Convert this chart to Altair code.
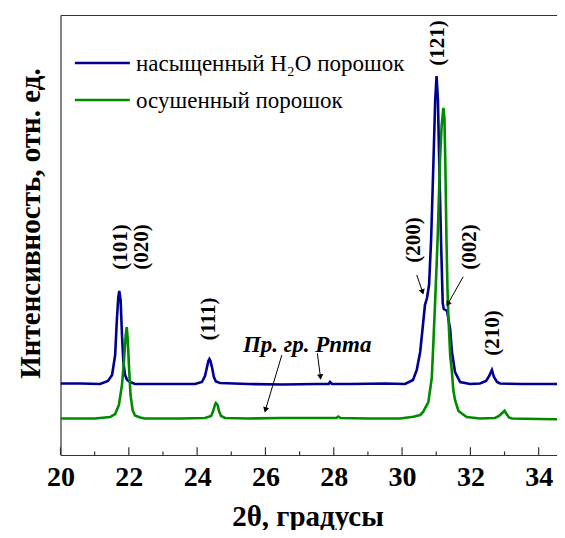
import altair as alt
import pandas as pd

# ---- data (2θ in degrees, intensity in arbitrary units) ----
series_names = ["насыщенный H₂O порошок", "осушенный порошок"]
series_colors = ["#000090", "#008a00"]

blue_x = [20.00, 20.60, 21.16, 21.39, 21.51, 21.60, 21.65, 21.69, 21.72, 21.76, 21.80, 21.84,
          21.89, 21.95, 22.04, 22.18, 23.00, 23.94, 24.14, 24.23, 24.29, 24.33, 24.36, 24.39,
          24.44, 24.49, 24.55, 24.67, 25.50, 26.50, 27.50, 27.85, 27.89, 27.95, 28.50, 29.50,
          30.09, 30.32, 30.43, 30.53, 30.62, 30.67, 30.73, 30.79, 30.85, 30.92, 30.97, 31.01,
          31.05, 31.08, 31.14, 31.19, 31.22, 31.32, 31.41, 31.46, 31.55, 31.70, 31.99, 32.28,
          32.46, 32.55, 32.63, 32.69, 32.78, 32.87, 33.50, 34.00, 34.77]
blue_y = [71.5, 71.5, 71, 74, 80, 100, 135, 157, 164, 155, 120, 93,
          80, 75, 73, 71, 71, 71, 73, 79, 88, 94, 96, 94,
          87, 78, 73.5, 72, 71, 70.5, 71, 71, 73, 71, 71, 71.5,
          71, 75, 85, 103, 133, 150, 157, 170, 215, 295, 355, 379,
          355, 305, 215, 152, 146, 144, 125, 103, 83, 73, 71, 71.5,
          74, 79, 85, 78, 73, 71.5, 71, 71, 71]

green_x = [20.00, 21.01, 21.45, 21.60, 21.71, 21.80, 21.86, 21.91, 21.94, 21.97, 22.01, 22.05,
           22.11, 22.18, 22.33, 22.47, 23.50, 24.23, 24.41, 24.47, 24.52, 24.55, 24.60, 24.64,
           24.70, 24.82, 25.50, 26.50, 27.50, 28.08, 28.13, 28.20, 29.00, 29.94, 30.33, 30.53,
           30.62, 30.77, 30.87, 30.92, 30.97, 31.04, 31.11, 31.16, 31.21, 31.24, 31.27, 31.30,
           31.33, 31.36, 31.41, 31.46, 31.50, 31.55, 31.65, 31.89, 32.28, 32.72, 32.84, 32.93,
           33.00, 33.06, 33.13, 33.22, 34.00, 34.77]
green_y = [36.5, 36.5, 38, 41, 50, 70, 95, 120, 128, 115, 85, 60,
           45, 39.5, 37.5, 36.5, 36.5, 37, 39, 44, 50, 52, 50, 44,
           39, 37, 36.5, 37, 37, 37, 38.5, 37, 36.5, 36.5, 38.3, 40,
           43.3, 53, 77, 115, 155, 215, 295, 330, 347, 337, 285, 215,
           165, 135, 99, 83, 65, 55, 44, 38, 36.5, 37, 39, 42,
           44.3, 41, 37.5, 36.5, 36, 35.7]

x_major = [20, 22, 24, 26, 28, 30, 32, 34]
x_minor = [21, 23, 25, 27, 29, 31, 33]

peak_labels = ["(101)", "(020)", "(111)", "(200)", "(121)", "(002)", "(210)"]
peak_label_x = [21.77, 22.39, 24.35, 30.35, 31.05, 31.99, 32.66]
peak_label_y = [208, 208, 136, 215, 412, 208, 122]

group_label = "Пр. гр. Pnma"
group_label_x = [25.34]
group_label_y = [103]

arrow_x0 = [26.48, 27.52, 30.43, 31.79]
arrow_y0 = [100, 101.7, 180, 178.3]
arrow_x1 = [26.00, 27.61, 30.60, 31.34]
arrow_y1 = [45, 78, 163, 151]
arrow_angle = [196, 173, 162, 209]

legend_x0 = [20.42, 20.42]
legend_x1 = [22.03, 22.03]
legend_y = [392, 355]
legend_text_x = [22.21, 22.21]

# ---- tables ----
lines_df = pd.concat([
    pd.DataFrame({"x": blue_x, "y": blue_y, "series": series_names[0]}),
    pd.DataFrame({"x": green_x, "y": green_y, "series": series_names[1]}),
])
major_df = pd.DataFrame({"x": x_major, "y": [0] * len(x_major), "y2": [7.7] * len(x_major)})
minor_df = pd.DataFrame({"x": x_minor, "y": [0] * len(x_minor), "y2": [3.6] * len(x_minor)})
peak_df = pd.DataFrame({"x": peak_label_x, "y": peak_label_y, "t": peak_labels})
group_df = pd.DataFrame({"x": group_label_x, "y": group_label_y, "t": [group_label]})
arrow_df = pd.DataFrame({"x": arrow_x0, "y": arrow_y0, "x2": arrow_x1, "y2": arrow_y1,
                         "ang": arrow_angle})
legend_df = pd.DataFrame({"x": legend_x0, "x2": legend_x1, "y": legend_y,
                          "tx": legend_text_x, "series": series_names})

FONT = "Liberation Serif"
W, H = 504.5, 440

xs = alt.Scale(domain=[20, 34.77], nice=False, zero=False)
ys = alt.Scale(domain=[0, 440], nice=False, zero=False)
cs = alt.Scale(domain=series_names, range=series_colors)

left_axis = alt.Axis(
    title="Интенсивность, отн. ед.", labels=False, ticks=False, grid=False,
    domainColor="#333333", domainWidth=1.2,
    titleFont=FONT, titleFontSize=29, titleFontWeight="bold", titleColor="black",
    titleAngle=270, titleAlign="center", titleBaseline="middle",
    titleX=-30, titleY=208,
)
bottom_axis = alt.Axis(
    orient="bottom", values=x_major, format="d", ticks=False, grid=False,
    domainColor="#333333", domainWidth=1.2, labelFlush=False,
    labelFont=FONT, labelFontSize=28, labelFontWeight="bold", labelColor="black",
    labelPadding=8,
    title="2θ, градусы", titleFont=FONT, titleFontSize=29, titleFontWeight="bold",
    titleColor="black", titleBaseline="alphabetic", titleAlign="center",
    titleX=247, titleY=70,
)
top_axis = alt.Axis(orient="top", labels=False, ticks=False, grid=False, title=None,
                    domainColor="#333333", domainWidth=1.2)

lines = alt.Chart(lines_df).mark_line(strokeWidth=2.6, clip=True).encode(
    x=alt.X("x:Q", scale=xs, axis=bottom_axis),
    y=alt.Y("y:Q", scale=ys, axis=left_axis),
    color=alt.Color("series:N", scale=cs, legend=None),
    detail="series:N",
)

major = alt.Chart(major_df).mark_rule(color="#333333", strokeWidth=1.2).encode(
    x=alt.X("x:Q", scale=xs, axis=top_axis),
    y=alt.Y("y:Q", scale=ys, axis=left_axis),
    y2="y2:Q",
)
minor = alt.Chart(minor_df).mark_rule(color="#333333", strokeWidth=1.2).encode(
    x=alt.X("x:Q", scale=xs, axis=None),
    y=alt.Y("y:Q", scale=ys, axis=left_axis),
    y2="y2:Q",
)

peaks = alt.Chart(peak_df).mark_text(
    angle=270, align="center", baseline="middle", font=FONT, fontSize=21,
    fontWeight="bold", color="black",
).encode(
    x=alt.X("x:Q", scale=xs, axis=None),
    y=alt.Y("y:Q", scale=ys, axis=left_axis),
    text="t:N",
)

group = alt.Chart(group_df).mark_text(
    align="left", baseline="alphabetic", font=FONT, fontSize=23,
    fontWeight="bold", fontStyle="italic", color="black",
).encode(
    x=alt.X("x:Q", scale=xs, axis=None),
    y=alt.Y("y:Q", scale=ys, axis=left_axis),
    text="t:N",
)

arrow_lines = alt.Chart(arrow_df).mark_rule(color="black", strokeWidth=1).encode(
    x=alt.X("x:Q", scale=xs, axis=None),
    y=alt.Y("y:Q", scale=ys, axis=left_axis),
    x2="x2:Q", y2="y2:Q",
)
arrow_heads = alt.Chart(arrow_df).mark_point(
    shape="triangle-up", filled=True, color="black", size=38, opacity=1,
).encode(
    x=alt.X("x2:Q", scale=xs, axis=None),
    y=alt.Y("y2:Q", scale=ys, axis=left_axis),
    angle=alt.Angle("ang:Q", scale=None),
)

legend_lines = alt.Chart(legend_df).mark_rule(strokeWidth=2.6).encode(
    x=alt.X("x:Q", scale=xs, axis=None),
    x2="x2:Q",
    y=alt.Y("y:Q", scale=ys, axis=left_axis),
    color=alt.Color("series:N", scale=cs, legend=None),
)
legend_text = alt.Chart(legend_df).mark_text(
    align="left", baseline="middle", font=FONT, fontSize=23, color="black", dy=1,
).encode(
    x=alt.X("tx:Q", scale=xs, axis=None),
    y=alt.Y("y:Q", scale=ys, axis=left_axis),
    text="series:N",
)

chart = alt.layer(
    lines, major, minor, peaks, group, arrow_lines, arrow_heads, legend_lines, legend_text
).resolve_axis(x="independent").properties(
    width=W, height=H,
    autosize=alt.AutoSizeParams(type="none"),
    padding={"left": 52.5, "top": 7, "right": -8, "bottom": 75},
    background="white",
).configure_view(stroke=None)

chart.save("out.html", embed_options={"renderer": "svg", "actions": False})
